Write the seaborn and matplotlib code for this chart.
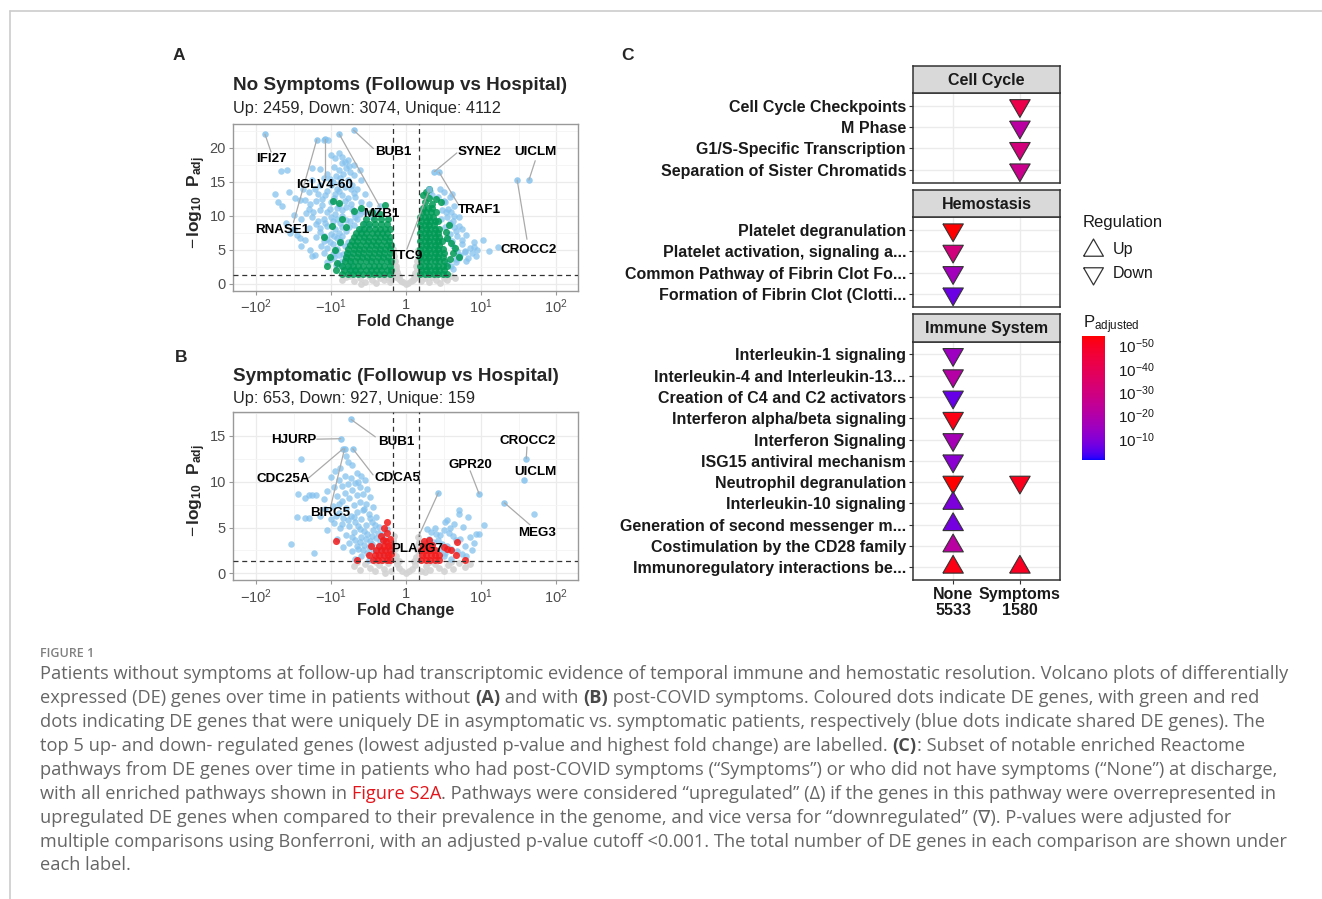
import numpy as np
import pandas as pd
import matplotlib
matplotlib.use("Agg")
import matplotlib.pyplot as plt
from matplotlib.lines import Line2D
from matplotlib.colors import ListedColormap, Normalize
import matplotlib.cm as cm
import seaborn as sns

# ---------------------------------------------------------------- data
# Volcano A (No Symptoms): x = signed log10 fold change, y = -log10 Padj
a_ns = [(0.0, 0.05), (0.03, 0.2), (-0.04, 0.25), (0.06, 0.4), (-0.07, 0.45), (0.09, 0.6), (-0.1, 0.7),
        (0.12, 0.9), (-0.13, 1.0), (0.15, 1.2), (-0.15, 1.3), (0.17, 1.6), (-0.17, 1.7), (0.18, 2.2),
        (-0.18, 2.3), (0.17, 2.9), (-0.18, 3.0), (0.18, 3.6), (-0.17, 3.8), (0.17, 4.3), (-0.18, 4.5),
        (0.16, 5.0), (-0.17, 5.2), (0.14, 2.0), (-0.14, 2.2), (0.12, 1.6), (-0.12, 1.7), (0.1, 1.2),
        (-0.09, 1.1), (-0.85, 0.6), (-0.8, 1.0), (-0.7, 0.4), (-0.62, 0.9), (-0.55, 0.3), (-0.5, 1.1),
        (-0.45, 0.6), (-0.4, 0.2), (-0.35, 0.9), (-0.3, 0.5), (-0.25, 1.0), (-0.22, 0.3), (-0.2, 0.7),
        (0.2, 0.4), (0.25, 0.9), (0.3, 0.3), (0.35, 1.0), (0.4, 0.6), (0.45, 0.2), (0.5, 0.9),
        (0.55, 0.5), (0.6, 1.1), (-0.75, 1.2), (0.65, 0.8), (-0.6, 0.05), (0.15, 3.3), (-0.15, 3.4),
        (0.16, 4.0), (-0.16, 4.1), (0.13, 2.6), (-0.13, 2.7)]
a_shared = [(-1.0, 19.0), (-0.95, 18.5), (-0.9, 19.3), (-0.85, 17.7), (-0.82, 17.9), (-0.78, 18.2),
            (-0.8, 17.0), (-0.9, 16.8), (-0.75, 16.5), (-0.7, 16.0), (-0.93, 15.8), (-1.05, 16.2),
            (-1.1, 15.5), (-0.98, 15.0), (-0.88, 14.8), (-0.72, 14.5), (-0.65, 14.0), (-1.15, 14.5),
            (-1.22, 14.0), (-1.3, 13.5), (-1.05, 13.7), (-0.95, 13.2), (-0.85, 13.0), (-0.78, 12.6),
            (-0.68, 12.8), (-0.6, 12.0), (-1.12, 12.5), (-1.2, 12.2), (-1.35, 12.3), (-1.42, 12.3),
            (-1.0, 12.0), (-0.9, 11.6), (-0.8, 11.3), (-0.72, 11.0), (-0.62, 10.8), (-0.55, 10.5),
            (-1.3, 11.0), (-1.15, 10.8), (-1.05, 10.5), (-0.95, 10.3), (-0.85, 10.0), (-1.25, 9.8),
            (-1.4, 9.6), (-1.1, 9.5), (-0.98, 9.2), (-0.88, 9.0), (-1.2, 8.8), (-1.05, 8.5), (-0.95, 8.0),
            (-1.3, 8.2), (-1.15, 7.6), (-1.0, 7.3), (-0.92, 6.8), (-1.2, 6.9), (-1.1, 6.3), (-0.98, 5.9),
            (-1.05, 5.3), (-0.95, 4.8), (-1.1, 4.5), (-0.9, 4.2), (-1.0, 3.7), (-0.85, 3.3), (-1.5, 8.0),
            (-1.45, 7.2), (-1.55, 7.5), (-1.35, 6.5), (-1.6, 8.9), (-1.5, 10.1), (-1.65, 11.5),
            (-1.48, 12.6), (-1.56, 13.5), (-1.7, 12.0), (-1.28, 5.0), (-1.4, 5.6), (-1.25, 4.1),
            (-1.22, 4.25), (-1.42, 6.8), (-1.66, 16.6), (-1.59, 16.8), (-1.74, 13.2), (-1.26, 17.1),
            (-0.65, 9.5), (-0.55, 9.0), (-0.5, 8.5), (-0.45, 9.8), (-0.6, 8.0), (-0.75, 9.2), (-0.7, 8.6),
            (-0.8, 7.8), (-0.85, 7.0), (-0.78, 6.2), (-0.82, 5.5), (-0.76, 4.6), (-0.8, 3.8), (-0.74, 3.0),
            (-0.78, 2.4), (-0.7, 2.0), (-0.4, 10.6), (-0.35, 11.5), (-0.5, 11.8), (-0.55, 13.2),
            (-0.6, 15.3), (-0.7, 17.5), (-0.62, 16.8), (-1.1, 21.2), (-1.04, 21.2), (-0.92, 11.2),
            (-1.02, 11.0), (-1.12, 11.6), (-0.7, 13.4), (-0.82, 14.2), (-0.92, 14.0), (-1.0, 14.6),
            (-1.08, 9.0), (-1.15, 8.2), (-0.9, 7.5), (-1.05, 6.6), (-0.88, 6.0), (-0.92, 5.2),
            (-0.84, 4.4), (-0.96, 3.9), (-0.9, 3.0), (-0.84, 2.5), (-0.62, 10.2), (-0.68, 9.9),
            (-0.86, 18.6), (-0.76, 17.3), (-0.84, 16.2), (-0.96, 17.2), (-0.78, 15.2), (-0.88, 15.5),
            (-1.02, 15.4), (-0.74, 13.9), (-0.9, 13.6), (-1.08, 13.0), (-0.82, 12.2), (-0.96, 12.6),
            (-0.74, 11.8), (-0.86, 10.8), (-1.0, 9.8), (-0.92, 9.6), (-0.8, 9.4), (-0.7, 10.4),
            (-0.76, 8.4), (-0.86, 8.4), (-1.1, 7.0), (-0.96, 7.0), (-0.88, 6.5), (-1.02, 6.2),
            (-1.14, 5.6), (-0.98, 4.4), (-1.06, 3.2), (-0.94, 2.8), (-1.18, 9.2), (-1.24, 10.5),
            (-1.34, 10.4), (-1.28, 11.8), (-1.18, 13.2), (-1.38, 13.9), (-1.25, 15.2), (-1.15, 16.9),
            (0.32, 13.6), (0.35, 13.0), (0.42, 12.8), (0.5, 12.2), (0.56, 11.0), (0.6, 10.5),
            (0.64, 11.5), (0.55, 9.8), (0.62, 9.2), (0.7, 8.5), (0.75, 8.0), (0.68, 7.0), (0.8, 7.2),
            (0.9, 6.1), (1.03, 6.5), (1.22, 5.4), (0.95, 5.0), (0.85, 5.3), (0.78, 4.8), (0.72, 4.2),
            (0.82, 3.8), (0.67, 3.2), (0.6, 2.6), (0.88, 4.5), (0.75, 5.8), (0.5, 13.5), (0.45, 14.0),
            (0.58, 12.8), (0.64, 10.0), (0.7, 9.8), (0.48, 10.8), (1.11, 4.8), (0.93, 4.1), (0.8, 3.3),
            (0.71, 3.8), (0.61, 6.3), (0.66, 7.8), (0.52, 8.4), (0.58, 7.4), (0.61, 13.2), (0.52, 12.0),
            (0.79, 4.7), (0.91, 5.4), (0.71, 4.1), (0.67, 3.6), (0.55, 3.0), (0.62, 2.2), (0.47, 9.5),
            (0.53, 10.6), (0.58, 8.9), (0.64, 8.3), (0.56, 6.6), (0.62, 5.6), (0.68, 4.9), (0.74, 6.4)]
a_unique = [(-0.86, 1.5), (-0.78, 1.5), (-0.71, 1.5), (-0.64, 1.5), (-0.57, 1.5), (-0.50, 1.5), (-0.43, 1.5),
            (-0.36, 1.5), (-0.29, 1.5), (-0.22, 1.5),
            (-0.83, 2.1), (-0.75, 2.1), (-0.68, 2.1), (-0.61, 2.1), (-0.54, 2.1), (-0.47, 2.1), (-0.40, 2.1),
            (-0.33, 2.1), (-0.26, 2.1), (-0.20, 2.1),
            (-0.85, 2.7), (-0.78, 2.7), (-0.71, 2.7), (-0.64, 2.7), (-0.57, 2.7), (-0.50, 2.7), (-0.43, 2.7),
            (-0.36, 2.7), (-0.29, 2.7), (-0.22, 2.7),
            (-0.82, 3.3), (-0.75, 3.3), (-0.68, 3.3), (-0.61, 3.3), (-0.54, 3.3), (-0.47, 3.3), (-0.40, 3.3),
            (-0.33, 3.3), (-0.26, 3.3), (-0.20, 3.3),
            (-0.80, 3.9), (-0.73, 3.9), (-0.66, 3.9), (-0.59, 3.9), (-0.52, 3.9), (-0.45, 3.9), (-0.38, 3.9),
            (-0.31, 3.9), (-0.24, 3.9),
            (-0.79, 4.5), (-0.71, 4.5), (-0.64, 4.5), (-0.57, 4.5), (-0.50, 4.5), (-0.43, 4.5), (-0.36, 4.5),
            (-0.29, 4.5), (-0.22, 4.5),
            (-0.77, 5.1), (-0.70, 5.1), (-0.63, 5.1), (-0.56, 5.1), (-0.49, 5.1), (-0.42, 5.1), (-0.35, 5.1),
            (-0.28, 5.1), (-0.21, 5.1),
            (-0.75, 5.7), (-0.68, 5.7), (-0.61, 5.7), (-0.54, 5.7), (-0.47, 5.7), (-0.40, 5.7), (-0.33, 5.7),
            (-0.26, 5.7), (-0.20, 5.7),
            (-0.72, 6.3), (-0.65, 6.3), (-0.58, 6.3), (-0.51, 6.3), (-0.44, 6.3), (-0.37, 6.3), (-0.30, 6.3),
            (-0.23, 6.3),
            (-0.70, 6.9), (-0.63, 6.9), (-0.56, 6.9), (-0.49, 6.9), (-0.42, 6.9), (-0.35, 6.9), (-0.28, 6.9),
            (-0.21, 6.9),
            (-0.67, 7.5), (-0.60, 7.5), (-0.53, 7.5), (-0.46, 7.5), (-0.39, 7.5), (-0.32, 7.5), (-0.25, 7.5),
            (-0.63, 8.1), (-0.56, 8.1), (-0.49, 8.1), (-0.42, 8.1), (-0.35, 8.1), (-0.28, 8.1), (-0.21, 8.1),
            (-0.58, 8.8), (-0.50, 8.8), (-0.42, 8.8), (-0.34, 8.8), (-0.26, 8.8),
            (-0.53, 9.5), (-0.43, 9.5), (-0.33, 9.5), (-0.24, 9.5),
            (-0.95, 5.0), (-1.02, 4.0), (-0.92, 3.1), (-0.88, 6.2), (-0.99, 8.5), (-0.9, 11.9), (-0.98, 12.2),
            (-0.7, 10.7), (-0.6, 11.2), (-0.45, 10.6), (-0.85, 9.6), (-0.8, 8.4), (-1.05, 2.6), (-0.93, 2.0),
            (-1.1, 6.9), (-0.35, 10.2), (-0.28, 11.6),
            (0.19, 1.5), (0.25, 1.5), (0.31, 1.5), (0.37, 1.5), (0.43, 1.5), (0.49, 1.5), (0.55, 1.5),
            (0.20, 2.1), (0.26, 2.1), (0.32, 2.1), (0.38, 2.1), (0.44, 2.1), (0.50, 2.1),
            (0.19, 2.7), (0.25, 2.7), (0.31, 2.7), (0.37, 2.7), (0.43, 2.7), (0.49, 2.7), (0.54, 2.7),
            (0.20, 3.3), (0.26, 3.3), (0.32, 3.3), (0.38, 3.3), (0.44, 3.3), (0.50, 3.3),
            (0.19, 3.9), (0.25, 3.9), (0.31, 3.9), (0.37, 3.9), (0.43, 3.9), (0.49, 3.9),
            (0.20, 4.5), (0.26, 4.5), (0.32, 4.5), (0.38, 4.5), (0.44, 4.5), (0.50, 4.5),
            (0.19, 5.1), (0.25, 5.1), (0.31, 5.1), (0.37, 5.1), (0.43, 5.1), (0.49, 5.1),
            (0.20, 5.7), (0.26, 5.7), (0.32, 5.7), (0.38, 5.7), (0.44, 5.7),
            (0.19, 6.3), (0.25, 6.3), (0.31, 6.3), (0.37, 6.3), (0.43, 6.3), (0.48, 6.3),
            (0.20, 6.9), (0.26, 6.9), (0.32, 6.9), (0.38, 6.9), (0.44, 6.9),
            (0.19, 7.5), (0.25, 7.5), (0.31, 7.5), (0.37, 7.5), (0.43, 7.5),
            (0.20, 8.1), (0.26, 8.1), (0.32, 8.1), (0.38, 8.1), (0.44, 8.1),
            (0.19, 8.7), (0.25, 8.7), (0.31, 8.7), (0.37, 8.7),
            (0.20, 9.3), (0.26, 9.3), (0.32, 9.3), (0.38, 9.3), (0.43, 9.3),
            (0.19, 9.9), (0.25, 9.9), (0.31, 9.9), (0.36, 9.9),
            (0.21, 10.5), (0.27, 10.5), (0.33, 10.5), (0.40, 10.5),
            (0.22, 11.1), (0.29, 11.1), (0.35, 11.1),
            (0.25, 12.0), (0.3, 12.6), (0.22, 13.0), (0.27, 13.5), (0.31, 13.9), (0.35, 11.8), (0.55, 6.8),
            (0.6, 6.0), (0.62, 4.6), (0.58, 3.6), (0.65, 5.3), (0.7, 3.9), (0.53, 7.6), (0.57, 8.6),
            (0.46, 12.0), (0.4, 12.5)]
a_genes = ["IFI27", "IGLV4-60", "RNASE1", "MZB1", "BUB1", "SYNE2", "UICLM", "TRAF1", "CROCC2", "TTC9"]
a_gene_fc = [-1.88, -1.08, -1.19, -0.89, -0.70, 0.378, 1.636, 0.44, 1.48, 0.31]
a_gene_p = [22.0, 21.3, 21.2, 22.0, 22.6, 16.5, 15.25, 16.4, 15.25, 13.9]

# Volcano B (Symptomatic)
b_ns = [(0.0, 0.05), (0.04, 0.2), (-0.05, 0.3), (0.08, 0.5), (-0.09, 0.6), (0.12, 0.9), (-0.12, 1.0),
        (0.15, 1.4), (-0.15, 1.5), (0.17, 2.0), (-0.17, 2.1), (0.18, 2.7), (-0.18, 2.8), (0.17, 3.4),
        (-0.17, 3.6), (0.16, 4.0), (-0.16, 4.1), (0.13, 1.8), (-0.13, 1.9), (0.1, 1.3), (-0.1, 1.3),
        (-0.7, 0.8), (-0.62, 0.4), (-0.55, 1.0), (-0.48, 0.6), (-0.42, 0.2), (-0.36, 0.9), (-0.3, 0.5),
        (-0.24, 1.1), (-0.2, 0.3), (0.2, 0.3), (0.26, 0.8), (0.32, 0.4), (0.38, 1.0), (0.44, 0.6),
        (0.5, 0.2), (0.56, 0.9), (0.62, 0.5), (0.7, 1.1), (0.78, 0.7), (0.85, 1.0), (-0.66, 1.2),
        (-0.4, 1.2), (0.3, 1.2), (0.6, 1.2), (-0.28, 0.0), (0.25, 0.1), (0.15, 2.6), (-0.15, 2.7),
        (0.16, 3.1), (-0.16, 3.2)]
b_shared = [(-1.40, 12.5), (-0.80, 12.8), (-0.78, 12.2), (-0.72, 11.8), (-0.88, 11.5), (-0.95, 11.2),
            (-0.66, 11.0), (-0.60, 10.6), (-0.82, 10.6), (-0.74, 10.4), (-0.90, 10.2), (-1.0, 10.5),
            (-0.55, 10.2), (-0.68, 9.9), (-0.78, 9.7), (-0.86, 9.5), (-0.96, 9.4), (-0.62, 9.4), (-0.52, 9.2),
            (-0.72, 9.1), (-1.05, 9.0), (-0.82, 8.8), (-0.58, 8.7), (-0.66, 8.5), (-0.92, 8.4), (-0.48, 8.3),
            (-0.76, 8.2), (-1.1, 8.1), (-1.2, 8.5), (-1.25, 8.6), (-1.35, 8.2), (-0.85, 7.9), (-0.62, 7.8),
            (-0.54, 7.6), (-0.70, 7.5), (-0.98, 7.4), (-0.44, 7.2), (-0.80, 7.1), (-1.08, 7.0), (-0.58, 6.9),
            (-0.66, 6.7), (-0.90, 6.6), (-0.50, 6.5), (-0.74, 6.3), (-0.40, 6.2), (-1.15, 6.3), (-1.3, 6.0),
            (-1.45, 6.2), (-0.84, 6.0), (-0.60, 5.9), (-0.68, 5.6), (-0.46, 5.6), (-0.96, 5.5), (-0.54, 5.3),
            (-0.76, 5.2), (-0.36, 5.1), (-0.88, 4.9), (-0.62, 4.8), (-0.44, 4.7), (-1.05, 4.7), (-0.70, 4.5),
            (-0.52, 4.3), (-0.32, 4.3), (-0.80, 4.2), (-0.60, 4.0), (-0.40, 3.9), (-0.92, 3.8), (-0.68, 3.6),
            (-0.48, 3.5), (-0.28, 3.4), (-0.76, 3.3), (-0.56, 3.1), (-0.36, 3.0), (-0.84, 2.9), (-0.64, 2.7),
            (-0.44, 2.6), (-0.26, 2.5), (-0.72, 2.4), (-0.52, 2.2), (-0.34, 2.1), (-0.60, 1.9), (-0.42, 1.7),
            (-0.24, 1.7), (-0.50, 1.5), (-0.68, 1.6), (-1.53, 3.2), (-1.23, 2.2), (-1.44, 8.7), (-1.35, 6.0),
            (-1.3, 8.5), (-0.3, 3.8), (-0.25, 4.8), (-0.38, 4.4), (-0.46, 3.2), (-0.58, 2.6), (-0.66, 3.0),
            (-0.54, 3.8), (-0.33, 2.7), (-0.29, 1.9), (-0.40, 2.4), (-0.50, 2.9), (-0.62, 3.4), (-0.72, 4.0),
            (-0.45, 4.1), (-0.35, 3.5), (-0.56, 4.6), (-0.64, 5.2), (-0.42, 5.3), (-0.48, 6.0), (-0.56, 7.0),
            (-0.70, 6.1), (-0.78, 5.8), (-0.86, 5.4), (-0.94, 6.3), (-1.0, 5.9), (-0.9, 7.6), (-0.64, 10.0),
            (0.28, 4.8), (0.33, 4.5), (0.38, 5.0), (0.45, 4.2), (0.50, 4.7), (0.52, 5.6), (0.55, 5.8),
            (0.59, 4.9), (0.62, 4.1), (0.66, 3.6), (0.70, 6.9), (0.71, 6.5), (0.76, 5.1), (0.90, 3.3),
            (0.93, 4.3), (0.97, 4.3), (1.04, 5.3), (0.30, 3.8), (0.36, 3.4), (0.42, 3.6), (0.48, 3.2),
            (0.55, 3.0), (0.60, 2.7), (0.68, 2.4), (0.74, 2.1), (0.80, 1.9), (0.88, 2.6), (0.45, 2.6),
            (0.52, 2.2), (0.40, 4.3), (0.57, 4.4), (0.64, 5.4), (0.85, 4.0), (0.78, 3.0), (0.25, 3.3),
            (0.34, 2.9), (0.82, 6.1), (0.72, 3.8), (0.5, 1.9), (0.6, 1.6), (1.71, 6.45)]
b_unique = [(-0.44, 1.5), (-0.38, 1.5), (-0.32, 1.5), (-0.26, 1.5), (-0.21, 1.5),
            (-0.42, 2.0), (-0.36, 2.0), (-0.30, 2.0), (-0.24, 2.0), (-0.20, 2.1),
            (-0.40, 2.5), (-0.34, 2.5), (-0.28, 2.5), (-0.22, 2.5),
            (-0.36, 3.0), (-0.30, 3.0), (-0.24, 3.0), (-0.20, 3.1),
            (-0.27, 3.5), (-0.22, 3.7), (-0.31, 3.6),
            (-0.94, 3.5), (-0.26, 5.6), (-0.30, 4.9), (-0.50, 2.0), (-0.65, 1.45), (-0.47, 3.0),
            (-0.25, 4.4), (-0.33, 4.1),
            (0.20, 1.5), (0.26, 1.5), (0.32, 1.5), (0.38, 1.5), (0.44, 1.5),
            (0.21, 2.0), (0.27, 2.0), (0.33, 2.0), (0.39, 2.0),
            (0.20, 2.5), (0.26, 2.5), (0.32, 2.5), (0.38, 2.6),
            (0.22, 3.0), (0.28, 3.0), (0.34, 3.1), (0.24, 3.5), (0.30, 3.6),
            (0.55, 2.7), (0.68, 3.4), (0.6, 2.6), (0.66, 2.0), (0.78, 1.45), (0.5, 2.9), (0.44, 2.0)]
b_genes = ["HJURP", "BUB1", "CDC25A", "CDCA5", "BIRC5", "GPR20", "CROCC2", "UICLM", "MEG3", "PLA2G7"]
b_gene_fc = [-0.871, -0.733, -0.84, -0.71, -0.82, 0.973, 1.6, 1.57, 1.31, 0.43]
b_gene_p = [14.7, 16.8, 13.6, 13.6, 13.6, 8.67, 12.5, 10.2, 7.7, 8.8]

# Panel C: enriched Reactome pathways (-log10 Padj)
cc_path = ["Cell Cycle Checkpoints", "M Phase", "G1/S-Specific Transcription", "Separation of Sister Chromatids"]
cc_group = ["Symptoms", "Symptoms", "Symptoms", "Symptoms"]
cc_reg = ["Down", "Down", "Down", "Down"]
cc_logp = [42, 22, 31, 27]

he_path = ["Platelet degranulation", "Platelet activation, signaling a...",
           "Common Pathway of Fibrin Clot Fo...", "Formation of Fibrin Clot (Clotti..."]
he_group = ["None", "None", "None", "None"]
he_reg = ["Down", "Down", "Down", "Down"]
he_logp = [54, 30, 16, 7]

im_rows = ["Interleukin-1 signaling", "Interleukin-4 and Interleukin-13...", "Creation of C4 and C2 activators",
           "Interferon alpha/beta signaling", "Interferon Signaling", "ISG15 antiviral mechanism",
           "Neutrophil degranulation", "Interleukin-10 signaling", "Generation of second messenger m...",
           "Costimulation by the CD28 family", "Immunoregulatory interactions be..."]
im_path = im_rows + ["Neutrophil degranulation", "Immunoregulatory interactions be..."]
im_group = ["None"] * 11 + ["Symptoms", "Symptoms"]
im_reg = ["Down"] * 7 + ["Up"] * 4 + ["Down", "Up"]
im_logp = [15, 21, 6, 52, 17, 11, 54, 9, 8, 22, 52, 51, 50]

groups = ["None", "Symptoms"]
group_n = ["5533", "1580"]
facets = ["Cell Cycle", "Hemostasis", "Immune System"]

# ---------------------------------------------------------------- style
W, H = 1322, 899
sns.set_theme(style="white")
plt.rcParams['font.family'] = ['Liberation Sans', 'DejaVu Sans']
plt.rcParams['mathtext.fontset'] = 'custom'
plt.rcParams['mathtext.rm'] = 'Liberation Sans'
plt.rcParams['mathtext.it'] = 'Liberation Sans:italic'
plt.rcParams['mathtext.bf'] = 'Liberation Sans:bold'
plt.rcParams['axes.unicode_minus'] = True

fig = plt.figure(figsize=(W / 100, H / 100), dpi=100)
fig.patch.set_facecolor('white')


def px_axes(x0, y0, x1, y1):
    return fig.add_axes([x0 / W, 1 - y1 / H, (x1 - x0) / W, (y1 - y0) / H])


def fx(x):
    return x / W


def fy(y):
    return 1 - y / H


# ---- Lab gradient blue -> red (like ggplot scale_colour_gradient)
def _lin(c):
    c = np.asarray(c, float)
    return np.where(c <= 0.04045, c / 12.92, ((c + 0.055) / 1.055) ** 2.4)


def _gam(c):
    return np.where(c <= 0.0031308, 12.92 * c, 1.055 * np.power(np.clip(c, 0, None), 1 / 2.4) - 0.055)


M = np.array([[0.4124, 0.3576, 0.1805], [0.2126, 0.7152, 0.0722], [0.0193, 0.1192, 0.9505]])
Mi = np.linalg.inv(M)
WP = np.array([0.95047, 1.0, 1.08883])


def to_lab(rgb):
    xyz = M @ _lin(rgb) / WP
    f = np.where(xyz > 216 / 24389, np.cbrt(xyz), (24389 / 27 * xyz + 16) / 116)
    return np.array([116 * f[1] - 16, 500 * (f[0] - f[1]), 200 * (f[1] - f[2])])


def from_lab(lab):
    fy_ = (lab[0] + 16) / 116
    fx_ = fy_ + lab[1] / 500
    fz_ = fy_ - lab[2] / 200
    f = np.array([fx_, fy_, fz_])
    xyz = np.where(f ** 3 > 216 / 24389, f ** 3, (116 * f - 16) / (24389 / 27)) * WP
    return np.clip(_gam(Mi @ xyz), 0, 1)


lab_lo, lab_hi = to_lab([0, 0, 1]), to_lab([1, 0, 0])
cmap = ListedColormap([from_lab(lab_lo + t * (lab_hi - lab_lo)) for t in np.linspace(0, 1, 256)])
norm = Normalize(vmin=1, vmax=54)

# ---------------------------------------------------------------- volcanoes
C_NS, C_SH = '#D3D3D3', '#84C2EE'
XT = [-2, -1, 0, 1, 2]
XTL = [r'$-10^2$', r'$-10^1$', '1', r'$10^1$', r'$10^2$']


def pts_df(lst):
    return pd.DataFrame(lst, columns=['lfc', 'nlp'])


def volcano(ax, ns, shared, uniq, ucol, ualpha, genes, gfc, gp, ylim, yt, labpos):
    sns.scatterplot(data=pts_df(ns), x='lfc', y='nlp', color=C_NS, s=24, alpha=0.9, linewidth=0, ax=ax,
                    legend=False, zorder=2)
    sns.scatterplot(data=pts_df(shared), x='lfc', y='nlp', color=C_SH, s=22, alpha=0.75, linewidth=0, ax=ax,
                    legend=False, zorder=3)
    sns.scatterplot(data=pts_df(uniq), x='lfc', y='nlp', color=ucol, s=26, alpha=ualpha, linewidth=0, ax=ax,
                    legend=False, zorder=4)
    gdf = pd.DataFrame({'lfc': gfc, 'nlp': gp})
    sns.scatterplot(data=gdf, x='lfc', y='nlp', color=C_SH, s=22, alpha=0.85, linewidth=0, ax=ax,
                    legend=False, zorder=4)
    ax.axvline(-np.log10(1.5), color='#333333', lw=0.9, ls=(0, (4, 3)), zorder=5)
    ax.axvline(np.log10(1.5), color='#333333', lw=0.9, ls=(0, (4, 3)), zorder=5)
    ax.axhline(-np.log10(0.05), color='#333333', lw=0.9, ls=(0, (4, 3)), zorder=5)
    for g, x, y in zip(genes, gfc, gp):
        tx, ty, ex, ey = labpos[g]
        if ex is not None:
            ax.plot([x, ex], [y, ey], color='#AAAAAA', lw=0.9, zorder=6)
        ax.text(tx, ty, g, ha='center', va='center', fontsize=9.6, fontweight='bold', color='black', zorder=7)
    ax.set_xlim(-2.31, 2.29)
    ax.set_ylim(*ylim)
    ax.set_xticks(XT)
    ax.set_xticklabels(XTL)
    ax.set_xticks([-1.5, -0.5, 0.5, 1.5], minor=True)
    ax.set_yticks(yt)
    ax.set_yticks([v + 2.5 for v in yt], minor=True)
    ax.grid(True, which='major', color='#EBEBEB', lw=0.9, zorder=0)
    ax.grid(True, which='minor', color='#F4F4F4', lw=0.6, zorder=0)
    ax.set_axisbelow(True)
    for s in ax.spines.values():
        s.set_color('#999999')
        s.set_linewidth(1.0)
    ax.tick_params(which='major', length=3, width=0.8, color='#999999', labelsize=10.5, labelcolor='#4D4D4D',
                   pad=2, left=True, bottom=True)
    ax.tick_params(which='minor', length=0)
    ax.set_xlabel('Fold Change', fontsize=11.5, fontweight='bold')
    ax.set_ylabel(r'$-\,\mathbf{log_{10}}\ \ \mathbf{P_{adj}}$', fontsize=12.5)


a_lab = {"IFI27": (-1.79, 18.4, -1.80, 19.4), "IGLV4-60": (-1.09, 14.5, -1.08, 15.5),
         "RNASE1": (-1.647, 7.85, -1.50, 9.05), "MZB1": (-0.33, 10.3, -0.347, 11.3),
         "BUB1": (-0.173, 19.35, -0.436, 19.9), "SYNE2": (0.98, 19.35, 0.676, 19.25),
         "UICLM": (1.72, 19.35, 1.72, 18.1), "TRAF1": (0.973, 10.8, 0.70, 11.6),
         "CROCC2": (1.627, 4.98, 1.61, 6.55), "TTC9": (0.009, 4.06, 0.01, 5.1)}
b_lab = {"HJURP": (-1.50, 14.57, -1.19, 14.65), "BUB1": (-0.13, 14.38, -0.41, 14.9),
         "CDC25A": (-1.64, 10.3, -1.30, 10.4), "CDCA5": (-0.11, 10.45, -0.44, 10.75),
         "BIRC5": (-1.01, 6.6, -1.01, 7.1), "GPR20": (0.853, 11.84, 0.853, 11.2),
         "CROCC2": (1.62, 14.46, 1.61, 13.8), "UICLM": (1.72, 11.1, None, None),
         "MEG3": (1.75, 4.4, 1.65, 5.3), "PLA2G7": (0.153, 2.65, 0.164, 4.0)}

axA = px_axes(232.7, 124, 578, 290.7)
volcano(axA, a_ns, a_shared, a_unique, '#009A55', 0.85, a_genes, a_gene_fc, a_gene_p, (-1.0, 23.5),
        [0, 5, 10, 15, 20], a_lab)
axB = px_axes(232.7, 411.7, 578, 580)
volcano(axB, b_ns, b_shared, b_unique, '#F21B1B', 0.85, b_genes, b_gene_fc, b_gene_p, (-0.73, 17.65),
        [0, 5, 10, 15], b_lab)
for ax, hgt in ((axA, 166.7), (axB, 168.3)):
    ax.yaxis.set_label_coords(-0.072, 0.53)
    ax.xaxis.set_label_coords(0.5, -23.0 / hgt)

fig.text(fx(173), fy(60), 'A', fontsize=12.5, fontweight='bold', va='baseline')
fig.text(fx(175), fy(361.7), 'B', fontsize=12.5, fontweight='bold', va='baseline')
fig.text(fx(621.5), fy(60), 'C', fontsize=12.5, fontweight='bold', va='baseline')
fig.text(fx(232.7), fy(90), 'No Symptoms (Followup vs Hospital)', fontsize=13.6, fontweight='bold',
         va='baseline')
fig.text(fx(232.7), fy(112.5), 'Up: 2459, Down: 3074, Unique: 4112', fontsize=11.8, va='baseline')
fig.text(fx(232.7), fy(380.5), 'Symptomatic (Followup vs Hospital)', fontsize=13.6, fontweight='bold',
         va='baseline')
fig.text(fx(232.7), fy(402.5), 'Up: 653, Down: 927, Unique: 159', fontsize=11.8, va='baseline')

# ---------------------------------------------------------------- panel C
TRI_DOWN = [(-1, 0.577), (1, 0.577), (0, -1.155), (-1, 0.577)]
TRI_UP = [(-1, -0.577), (1, -0.577), (0, 1.155), (-1, -0.577)]


def enrich(ax, strip, rows, path, grp, reg, logp, show_x):
    df = pd.DataFrame({'path': path, 'grp': grp, 'reg': reg, 'logp': logp})
    df['xpos'] = df['grp'].map({g: i for i, g in enumerate(groups)})
    df['ypos'] = df['path'].map({p: i for i, p in enumerate(rows)})
    for r, mk in (('Down', TRI_DOWN), ('Up', TRI_UP)):
        sub = df[df['reg'] == r]
        if len(sub):
            sns.scatterplot(data=sub, x='xpos', y='ypos', hue='logp', palette=cmap, hue_norm=norm, marker=mk,
                            s=290, edgecolor='#333333', linewidth=0.8, legend=False, ax=ax, zorder=3)
    n = len(rows)
    ax.set_xlim(-0.6, 1.6)
    ax.set_ylim(n - 1 + 0.6, -0.6)
    ax.set_yticks(range(n))
    ax.set_yticklabels(rows, fontsize=11.5, fontweight='bold', color='#1A1A1A')
    ax.set_xticks([0, 1])
    ax.grid(True, color='#EBEBEB', lw=1.0, zorder=0)
    ax.set_axisbelow(True)
    for s in ax.spines.values():
        s.set_color('#333333')
        s.set_linewidth(1.1)
    ax.tick_params(axis='y', length=3, width=0.8, color='#333333', pad=2, left=True)
    if show_x:
        ax.set_xticklabels([f'{g}\n{c}' for g, c in zip(groups, group_n)], fontsize=11.5, fontweight='bold',
                           color='#1A1A1A', linespacing=1.05)
        ax.tick_params(axis='x', length=3, width=0.8, color='#333333', pad=2, bottom=True)
    else:
        ax.set_xticklabels([])
        ax.tick_params(axis='x', length=0)
    ax.set_xlabel('')
    ax.set_ylabel('')
    x0, y0, x1, y1 = strip
    sax = px_axes(x0, y0, x1, y1)
    sax.set_facecolor('#D9D9D9')
    sax.set_xticks([])
    sax.set_yticks([])
    for s in sax.spines.values():
        s.set_color('#333333')
        s.set_linewidth(1.1)
    return sax


ax1 = px_axes(913, 92.7, 1060, 182.7)
s1 = enrich(ax1, (913, 66, 1060, 92.7), cc_path, cc_path, cc_group, cc_reg, cc_logp, False)
ax2 = px_axes(913, 217, 1060, 306.7)
s2 = enrich(ax2, (913, 190, 1060, 217), he_path, he_path, he_group, he_reg, he_logp, False)
ax3 = px_axes(913, 341.7, 1060, 580)
s3 = enrich(ax3, (913, 314, 1060, 341.7), im_rows, im_path, im_group, im_reg, im_logp, True)
for sax, name in zip((s1, s2, s3), facets):
    sax.text(0.5, 0.47, name, transform=sax.transAxes, ha='center', va='center', fontsize=11.5,
             fontweight='bold', color='#1A1A1A')

# Regulation legend
fig.text(fx(1083), fy(227), 'Regulation', fontsize=12, va='baseline', color='#1A1A1A')
for yy, mk, lab in ((249.5, TRI_UP, 'Up'), (273, TRI_DOWN, 'Down')):
    fig.add_artist(Line2D([fx(1092.5)], [fy(yy)], marker=mk, markersize=16.5, mfc='none', mec='#333333',
                          mew=0.9, ls='', transform=fig.transFigure))
    fig.text(fx(1113), fy(yy), lab, fontsize=11.5, va='center', color='#1A1A1A')

# Colorbar
fig.text(fx(1083), fy(328), r'P$_{\mathrm{adjusted}}$', fontsize=12, va='baseline', color='#1A1A1A')
cax = px_axes(1082, 336, 1105, 460)
sm = cm.ScalarMappable(norm=norm, cmap=cmap)
cb = fig.colorbar(sm, cax=cax)
cb.outline.set_visible(False)
cb.set_ticks([10, 20, 30, 40, 50])
cb.set_ticklabels([r'$10^{-10}$', r'$10^{-20}$', r'$10^{-30}$', r'$10^{-40}$', r'$10^{-50}$'])
cax.tick_params(left=True, right=True, labelleft=False, labelright=True, direction='in', length=4.5,
                width=0.8, color='white', labelsize=11, labelcolor='#1A1A1A', pad=9)

# ---------------------------------------------------------------- frame + caption
fig.add_artist(Line2D([fx(10), 1.0], [fy(11), fy(11)], color='#CCCCCC', lw=1.2, transform=fig.transFigure))
fig.add_artist(Line2D([fx(10), fx(10)], [fy(11), 0.0], color='#CCCCCC', lw=1.2, transform=fig.transFigure))

CAP_FONT = ['Open Sans', 'DejaVu Sans']
CAP_COL = '#666666'
renderer = fig.canvas.get_renderer()


def measure(txt, size, weight):
    t1 = fig.text(0, 0, '|' + txt + '|', fontsize=size, fontweight=weight, family=CAP_FONT)
    t2 = fig.text(0, 0, '||', fontsize=size, fontweight=weight, family=CAP_FONT)
    w = t1.get_window_extent(renderer).width - t2.get_window_extent(renderer).width
    t1.remove()
    t2.remove()
    return w


cap_lines = [
    [("Patients without symptoms at follow-up had transcriptomic evidence of temporal immune and hemostatic "
      "resolution. Volcano plots of differentially", 'normal', CAP_COL)],
    [("expressed (DE) genes over time in patients without ", 'normal', CAP_COL), ("(A)", 'bold', '#4A4A4A'),
     (" and with ", 'normal', CAP_COL), ("(B)", 'bold', '#4A4A4A'),
     (" post-COVID symptoms. Coloured dots indicate DE genes, with green and red", 'normal', CAP_COL)],
    [("dots indicating DE genes that were uniquely DE in asymptomatic vs. symptomatic patients, respectively "
      "(blue dots indicate shared DE genes). The", 'normal', CAP_COL)],
    [("top 5 up- and down- regulated genes (lowest adjusted p-value and highest fold change) are labelled. ",
      'normal', CAP_COL), ("(C)", 'bold', '#4A4A4A'),
     (": Subset of notable enriched Reactome", 'normal', CAP_COL)],
    [("pathways from DE genes over time in patients who had post-COVID symptoms (\u201cSymptoms\u201d) or who "
      "did not have symptoms (\u201cNone\u201d) at discharge,", 'normal', CAP_COL)],
    [("with all enriched pathways shown in ", 'normal', CAP_COL), ("Figure S2A", 'normal', '#E3151B'),
     (". Pathways were considered \u201cupregulated\u201d (\u0394) if the genes in this pathway were "
      "overrepresented in", 'normal', CAP_COL)],
    [("upregulated DE genes when compared to their prevalence in the genome, and vice versa for "
      "\u201cdownregulated\u201d (\u2207). P-values were adjusted for", 'normal', CAP_COL)],
    [("multiple comparisons using Bonferroni, with an adjusted p-value cutoff <0.001. The total number of DE "
      "genes in each comparison are shown under", 'normal', CAP_COL)],
    [("each label.", 'normal', CAP_COL)],
]

base = 12.0
cap_size = base * 1246.0 / measure(cap_lines[0][0][0], base, 'normal')
fig.text(fx(40), fy(656.7), 'FIGURE 1', fontsize=9, fontweight='semibold', family=CAP_FONT,
         color='#808080', va='baseline')
for i, runs in enumerate(cap_lines):
    x = 40.0
    yb = 679.3 + i * 23.9
    for txt, wt, col in runs:
        fig.text(fx(x), fy(yb), txt, fontsize=cap_size, fontweight=wt, color=col, family=CAP_FONT,
                 va='baseline', ha='left')
        x += measure(txt, cap_size, wt)

fig.savefig('out.png', dpi=100, facecolor='white')
